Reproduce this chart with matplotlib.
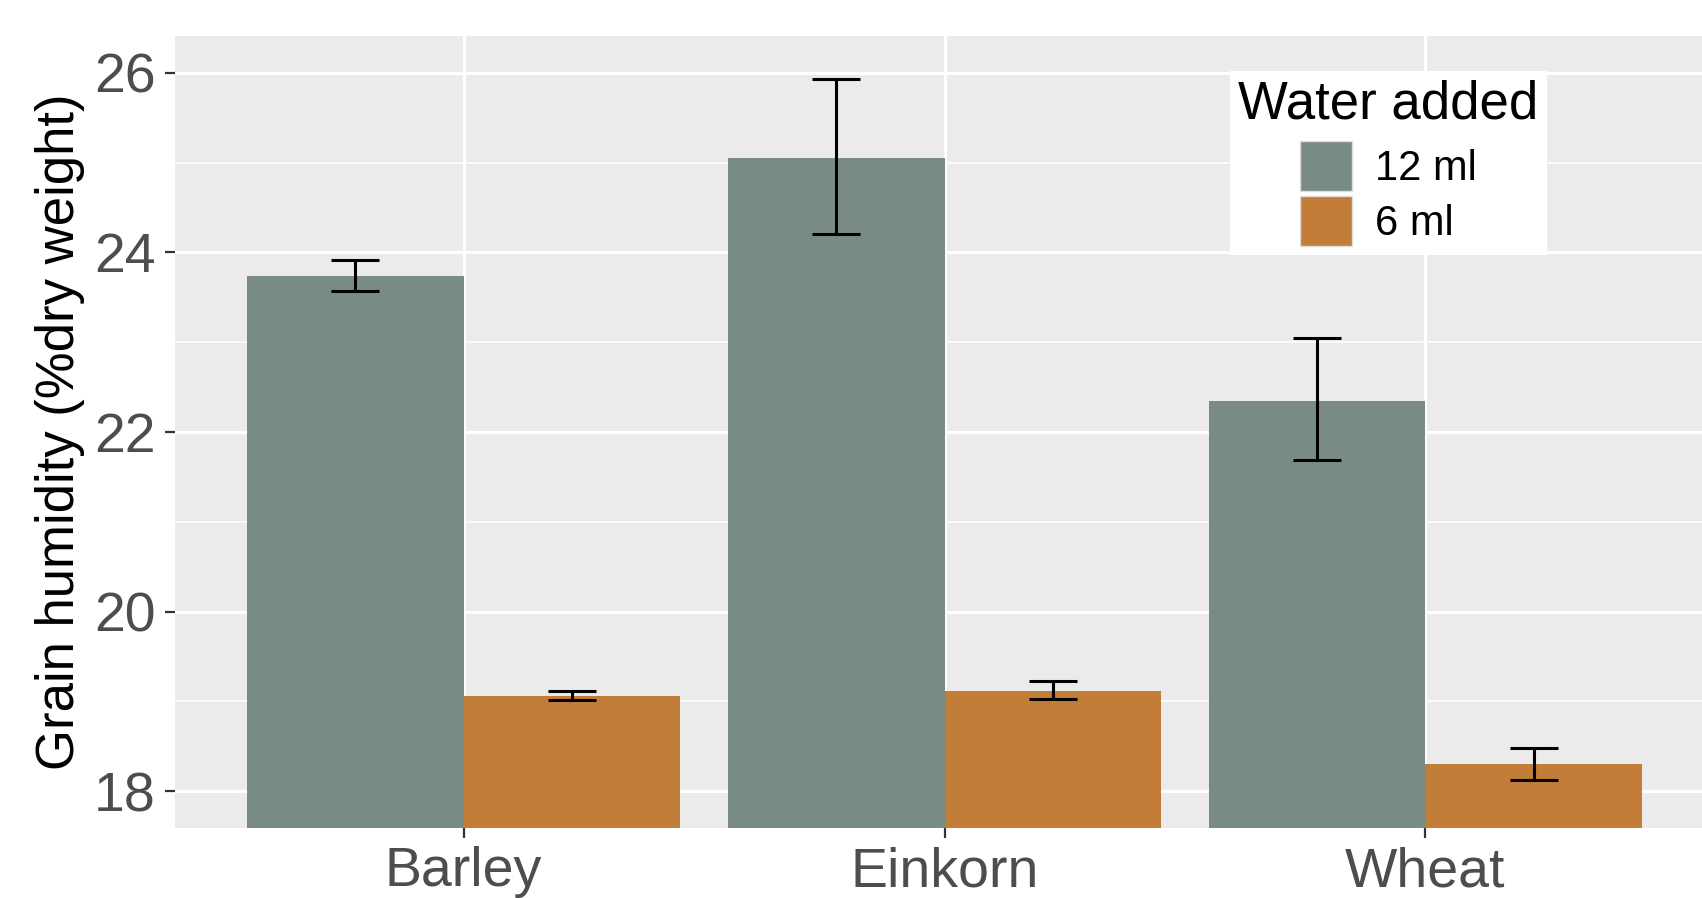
import matplotlib

matplotlib.use('Agg')
import matplotlib.pyplot as plt
import numpy as np

plt.rcParams['font.family'] = ['Liberation Sans', 'DejaVu Sans']

grains = ['Barley', 'Einkorn', 'Wheat']
water = ['12 ml', '6 ml']
colors = ['#798C84', '#C27D38']
mean_12 = [23.74, 25.05, 22.35]
mean_6 = [19.06, 19.12, 18.30]
lo_12 = [23.57, 24.20, 21.69]
hi_12 = [23.91, 25.93, 23.05]
lo_6 = [19.02, 19.03, 18.13]
hi_6 = [19.12, 19.23, 18.48]

W, H, DPI = 1702, 898, 100
fig = plt.figure(figsize=(W / DPI, H / DPI), dpi=DPI)
# panel runs past the right edge, as in the reference
ax = fig.add_axes([175 / W, 1 - 828 / H, (1714 - 175) / W, (828 - 36) / H])
ax.set_facecolor('#EBEBEB')
for s in ax.spines.values():
    s.set_visible(False)

x = np.arange(1, len(grains) + 1)
bw = 0.45
series = [(mean_12, lo_12, hi_12), (mean_6, lo_6, hi_6)]
handles = []
for i, (m, lo, hi) in enumerate(series):
    xs = x + (i - 0.5) * bw
    b = ax.bar(xs, np.array(m) - 17.0, bottom=17.0, width=bw, color=colors[i],
               label=water[i], zorder=2)
    handles.append(b)
    m = np.array(m)
    yerr = [m - np.array(lo), np.array(hi) - m]
    ax.errorbar(xs, m, yerr=yerr, fmt='none', ecolor='black', elinewidth=2.2,
                capsize=17, capthick=2.2, zorder=3)

ax.set_xlim(0.4, 3.6)
ax.set_ylim(17.59, 26.41)
ax.set_yticks([18, 20, 22, 24, 26])
ax.set_yticks([19, 21, 23, 25], minor=True)
ax.set_xticks(x)
ax.set_xticklabels(grains)
ax.grid(which='major', color='white', linewidth=2.3, zorder=0)
ax.grid(which='minor', axis='y', color='white', linewidth=1.1, zorder=0)
ax.set_axisbelow(True)
ax.tick_params(axis='both', which='major', length=7, width=1.6, color='#333333',
               labelsize=40, labelcolor='#4D4D4D', pad=7)
ax.tick_params(axis='x', which='major', pad=6)
ax.tick_params(axis='y', which='minor', length=0)
ax.set_ylabel('Grain humidity (%dry weight)', fontsize=38, color='black',
              labelpad=6)

leg = ax.legend(handles=handles, title='Water added', loc='upper left',
                bbox_to_anchor=(0.672, 0.982), fontsize=30, title_fontsize=38,
                frameon=True, fancybox=False, edgecolor='none', framealpha=1,
                handlelength=1.25, handleheight=1.5, labelspacing=0.1,
                handletextpad=0.55, borderpad=0.2)
leg.get_frame().set_facecolor('white')
leg._legend_box.sep = 8
for p in leg.get_patches():
    p.set_edgecolor('#DDDDDD')

fig.savefig('out.png', dpi=DPI)
